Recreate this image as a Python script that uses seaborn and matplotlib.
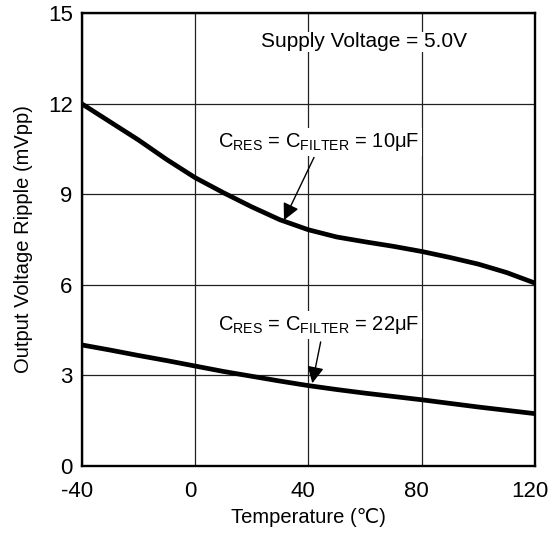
import matplotlib
matplotlib.use("Agg")
import matplotlib.pyplot as plt
import matplotlib.transforms as mtransforms
import seaborn as sns
import pandas as pd

# Data
temps = [-40, -30, -20, -10, 0, 10, 20, 30, 40, 50, 60, 70, 80, 90, 100, 110, 120]
ripple_10uF = [12.0, 11.4, 10.8, 10.15, 9.55, 9.05, 8.58, 8.15, 7.82, 7.58, 7.42, 7.27, 7.1, 6.9, 6.68, 6.4, 6.05]
ripple_22uF = [4.0, 3.83, 3.65, 3.48, 3.3, 3.12, 2.96, 2.8, 2.65, 2.52, 2.4, 2.29, 2.18, 2.06, 1.94, 1.83, 1.72]
x_ticks = [-40, 0, 40, 80, 120]
x_tick_labels = ["-40", "0", "40", "80", "120"]
y_ticks = [0, 3, 6, 9, 12, 15]

sns.set_style("white")
plt.rcParams['font.family'] = ['Liberation Sans', 'DejaVu Sans']
plt.rcParams['mathtext.fontset'] = 'custom'
plt.rcParams['mathtext.rm'] = 'Liberation Sans'
plt.rcParams['mathtext.it'] = 'Liberation Sans'

df = pd.DataFrame({
    "Temperature": temps * 2,
    "Ripple": ripple_10uF + ripple_22uF,
    "Series": ["10uF"] * len(temps) + ["22uF"] * len(temps),
})

W, H = 551, 533
fig = plt.figure(figsize=(W / 100, H / 100), dpi=100)
left, right, top, bottom = 81.7, 535.0, 13.3, 465.5
ax = fig.add_axes([left / W, 1 - bottom / H, (right - left) / W, (bottom - top) / H])

sns.lineplot(data=df, x="Temperature", y="Ripple", hue="Series",
             palette=["black", "black"], linewidth=3.4, legend=False, ax=ax)

ax.set_xlim(-40, 120)
ax.set_ylim(0, 15)
ax.set_xticks(x_ticks)
ax.set_xticklabels(x_tick_labels)
ax.set_yticks(y_ticks)
ax.grid(True, color="#222222", linewidth=0.9)
ax.tick_params(length=0, labelsize=16, colors="black")
ax.tick_params(axis="y", pad=6.5)
ax.tick_params(axis="x", pad=11)
offset = mtransforms.ScaledTranslation(-5 / 100, 0, fig.dpi_scale_trans)
for lab in ax.get_xticklabels():
    lab.set_transform(lab.get_transform() + offset)
for s in ax.spines.values():
    s.set_color("black")
    s.set_linewidth(1.7)

ax.set_xlabel("Temperature (\u2103)", fontsize=14.5, color="black", labelpad=4.5)
ax.set_ylabel("Output Voltage Ripple (mVpp)", fontsize=14.5, color="black", labelpad=11)

ax.text(59.7, 14.06, "Supply Voltage = 5.0V",
        fontsize=15, ha="center", va="center", color="black",
        bbox=dict(facecolor="white", edgecolor="none", pad=0.5))

ax.text(43.7, 10.57, r"C$_{\mathrm{RES}}$ = C$_{\mathrm{FILTER}}$ = 10μF",
        fontsize=14.5, ha="center", va="baseline", color="black",
        bbox=dict(facecolor="white", edgecolor="none", pad=2))
ax.annotate("", xy=(31.4, 8.14), xytext=(42.0, 10.22),
            arrowprops=dict(arrowstyle="-|>,head_length=1.0,head_width=0.5",
                            color="black", lw=1.0, shrinkA=0, shrinkB=0))

ax.text(43.7, 4.49, r"C$_{\mathrm{RES}}$ = C$_{\mathrm{FILTER}}$ = 22μF",
        fontsize=14.5, ha="center", va="baseline", color="black",
        bbox=dict(facecolor="white", edgecolor="none", pad=2))
ax.annotate("", xy=(41.4, 2.73), xytext=(44.35, 4.1),
            arrowprops=dict(arrowstyle="-|>,head_length=1.0,head_width=0.5",
                            color="black", lw=1.0, shrinkA=0, shrinkB=0))

fig.savefig("out.png", dpi=100, facecolor="white")
